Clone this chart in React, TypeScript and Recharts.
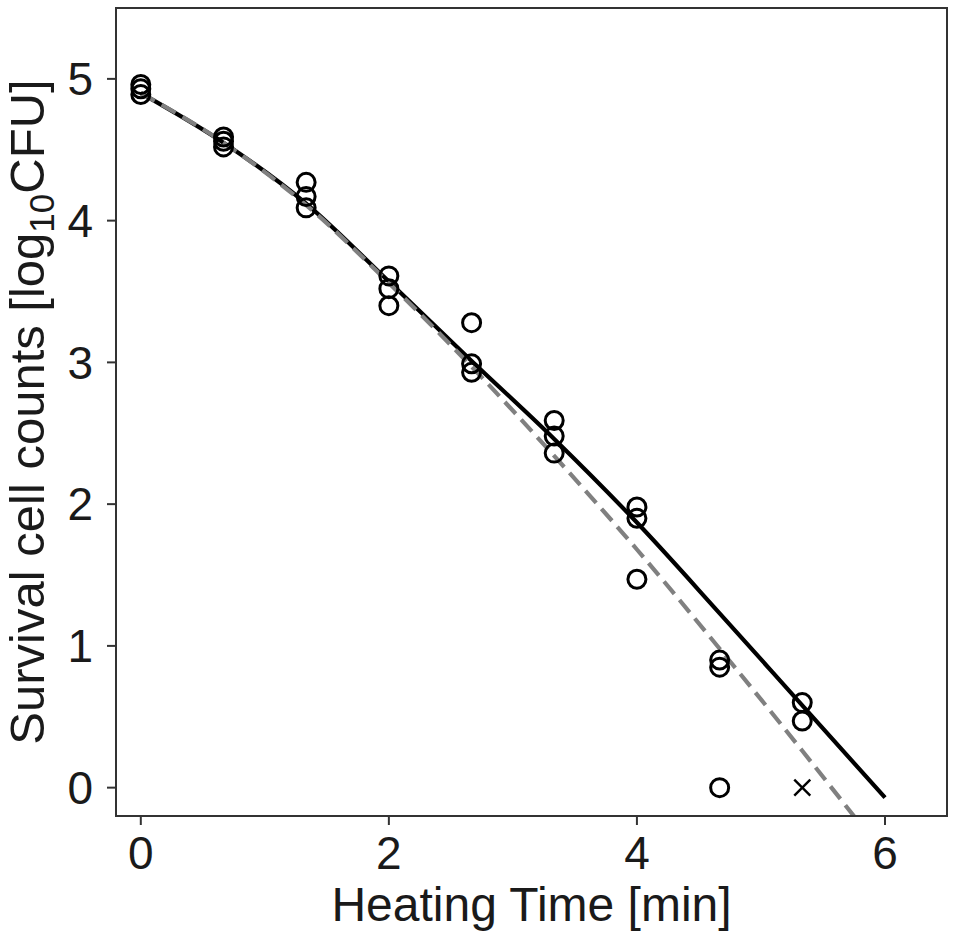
import { ComposedChart, Line, ReferenceArea, Scatter, XAxis, YAxis, Label } from 'recharts'

// fitted curves at the sampling times
const fitTime = [0, 0.667, 1.333, 2, 2.667, 3.333, 4, 4.667, 5.333, 6]
const fitSolid = [4.9, 4.55, 4.12, 3.57, 3.01, 2.46, 1.87, 1.23, 0.58, -0.07]
const fitDashed = [4.9, 4.55, 4.11, 3.56, 2.97, 2.34, 1.68, 0.98, 0.26, -0.48]

// measured survivors (three replicates per time)
const obsTime = [
  0, 0, 0, 0.667, 0.667, 0.667, 1.333, 1.333, 1.333, 2, 2, 2, 2.667, 2.667, 2.667,
  3.333, 3.333, 3.333, 4, 4, 4, 4.667, 4.667, 4.667, 5.333, 5.333,
]
const obsLog = [
  4.96, 4.93, 4.89, 4.59, 4.56, 4.52, 4.27, 4.17, 4.09, 3.61, 3.52, 3.4, 3.28, 2.99, 2.93,
  2.59, 2.48, 2.36, 1.98, 1.9, 1.47, 0.9, 0.85, 0, 0.6, 0.47,
]

// below detection limit
const censoredTime = [5.333]
const censoredLog = [0]

const xTicks = [0, 2, 4, 6]
const yTicks = [0, 1, 2, 3, 4, 5]
const xDomain: [number, number] = [-0.2, 6.5]
const yDomain: [number, number] = [-0.2, 5.5]

const FONT = '"Liberation Sans", Arial, sans-serif'
const TEXT = '#1a1a1a'
const FRAME = '#333'

const curve = fitTime.map((t, i) => ({ t, solid: fitSolid[i], dashed: fitDashed[i] }))
const observed = obsTime.map((t, i) => ({ t, y: obsLog[i] }))
const censored = censoredTime.map((t, i) => ({ t, y: censoredLog[i] }))

const OpenCircle = (props: any) => (
  <circle cx={props.cx} cy={props.cy} r={9} fill="none" stroke="#000" strokeWidth={3} />
)

const Cross = (props: any) => {
  const { cx, cy } = props
  const s = 8
  return (
    <g stroke="#000" strokeWidth={2.4}>
      <line x1={cx - s} y1={cy - s} x2={cx + s} y2={cy + s} />
      <line x1={cx - s} y1={cy + s} x2={cx + s} y2={cy - s} />
    </g>
  )
}

const YLabel = (props: any) => {
  const vb = props.viewBox
  const x = vb.x + 44
  const y = vb.y + vb.height / 2
  return (
    <text
      x={x}
      y={y}
      transform={`rotate(-90, ${x}, ${y})`}
      textAnchor="middle"
      fontSize={49}
      fontFamily={FONT}
      fill={TEXT}
    >
      Survival cell counts [log
      <tspan fontSize={35} dy="0.28em">10</tspan>
      <tspan dy="-0.2em">CFU]</tspan>
    </text>
  )
}

export default function App() {
  return (
    <div style={{ position: 'absolute', top: 0, left: 0, background: '#fff' }}>
      <ComposedChart width={954} height={944} margin={{ top: 8, right: 7, bottom: 0, left: 0 }}>
        <XAxis
          type="number"
          dataKey="t"
          domain={xDomain}
          ticks={xTicks}
          allowDataOverflow
          height={128}
          tickSize={9}
          tickMargin={11}
          axisLine={{ stroke: FRAME, strokeWidth: 2 }}
          tickLine={{ stroke: FRAME, strokeWidth: 2 }}
          tick={{ fontSize: 46, fill: TEXT, fontFamily: FONT }}
        >
          <Label
            value="Heating Time [min]"
            position="insideBottom"
            offset={23}
            style={{ fontSize: 48, fill: TEXT, fontFamily: FONT }}
          />
        </XAxis>
        <YAxis
          type="number"
          domain={yDomain}
          ticks={yTicks}
          allowDataOverflow
          width={116}
          tickSize={9}
          tickMargin={14}
          axisLine={{ stroke: FRAME, strokeWidth: 2 }}
          tickLine={{ stroke: FRAME, strokeWidth: 2 }}
          tick={{ fontSize: 46, fill: TEXT, fontFamily: FONT }}
          label={<YLabel />}
        />
        <Scatter data={observed} dataKey="y" shape={OpenCircle} isAnimationActive={false} />
        <Scatter data={censored} dataKey="y" shape={Cross} isAnimationActive={false} />
        <Line
          data={curve}
          dataKey="solid"
          type="monotone"
          stroke="#000"
          strokeWidth={4.2}
          dot={false}
          activeDot={false}
          isAnimationActive={false}
        />
        <Line
          data={curve}
          dataKey="dashed"
          type="monotone"
          stroke="#808080"
          strokeWidth={4.2}
          strokeDasharray="16 8"
          dot={false}
          activeDot={false}
          isAnimationActive={false}
        />
        <ReferenceArea
          x1={xDomain[0]}
          x2={xDomain[1]}
          y1={yDomain[0]}
          y2={yDomain[1]}
          fill="none"
          stroke={FRAME}
          strokeWidth={2}
        />
      </ComposedChart>
    </div>
  )
}
